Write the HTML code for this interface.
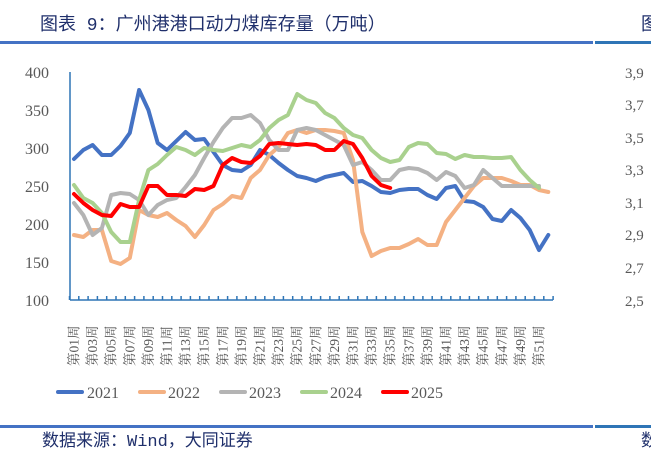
<!DOCTYPE html>
<html><head><meta charset="utf-8"><style>
body{margin:0;background:#fff;width:651px;height:461px;overflow:hidden}
svg{display:block}
</style></head><body>
<svg id="s" width="651" height="461" xmlns="http://www.w3.org/2000/svg" font-family="Liberation Serif, Noto Serif CJK SC, serif">
<text x="40" y="30" font-size="18" fill="#1f2f6b" font-family="Liberation Mono, Noto Sans CJK SC, monospace">图表 9：广州港港口动力煤库存量（万吨）</text>
<text x="641" y="30" font-size="18" fill="#1f2f6b" font-family="Noto Sans CJK SC, sans-serif">图</text>
<rect x="0" y="41" width="593" height="3" fill="#4472c4"/><rect x="595" y="41" width="56" height="3" fill="#2e75b6"/>
<g font-size="16" fill="#595959" text-anchor="end">
<text x="49" y="78">400</text><text x="49" y="154">300</text><text x="49" y="230">200</text><text x="49" y="306">100</text>
<text x="49" y="116">350</text><text x="49" y="192">250</text><text x="49" y="268">150</text>
</g>
<g font-size="15" fill="#595959">
<text x="625" y="78">3,9</text><text x="625" y="110">3,7</text><text x="625" y="143">3,5</text><text x="625" y="175">3,3</text><text x="625" y="208">3,1</text><text x="625" y="240">2,9</text><text x="625" y="273">2,7</text><text x="625" y="306">2,5</text>
</g>
<g id="ax" stroke="#2e75b6" stroke-width="1.5"><line x1="70" y1="72" x2="70" y2="300"/><line x1="70" y1="300" x2="553" y2="300"/></g>
<g id="lines" fill="none" stroke-width="4" stroke-linejoin="round" stroke-linecap="round"></g>
<g id="lab" font-size="13.5" fill="#595959" font-family="Liberation Serif, Noto Serif CJK SC, serif"></g>
<g font-size="16" fill="#595959">
<line x1="58" y1="392" x2="82" y2="392" stroke="#4472c4" stroke-width="4" stroke-linecap="round"/><text x="87" y="398">2021</text>
<line x1="140" y1="392" x2="164" y2="392" stroke="#f4b183" stroke-width="4" stroke-linecap="round"/><text x="168" y="398">2022</text>
<line x1="221" y1="392" x2="245" y2="392" stroke="#b4b4b4" stroke-width="4" stroke-linecap="round"/><text x="249" y="398">2023</text>
<line x1="302" y1="392" x2="326" y2="392" stroke="#a9d18e" stroke-width="4" stroke-linecap="round"/><text x="330" y="398">2024</text>
<line x1="383" y1="392" x2="407" y2="392" stroke="#ff0000" stroke-width="4" stroke-linecap="round"/><text x="411" y="398">2025</text>
</g>
<rect x="0" y="425" width="593" height="3" fill="#4472c4"/><rect x="595" y="425" width="56" height="3" fill="#2e75b6"/>
<text x="42" y="446" font-size="17" fill="#1f2f6b" font-family="Liberation Mono, Noto Sans CJK SC, monospace">数据来源：Wind，大同证券</text>
<text x="641" y="446" font-size="17" fill="#1f2f6b" font-family="Noto Sans CJK SC, sans-serif">数</text>
</svg>
<script>
var X=function(i){return 74+(i-1)*9.3};
var D={
"#4472c4":[159,150,145,155,155,146,133,90,110,143,150,141,132,140,139,152,165,170,171,165,150,155,163,170,176,178,181,177,175,173,182,181,186,192,193,190,189,189,195,199,188,186,201,202,207,219,221,210,218,230,250,235],
"#f4b183":[235,237,230,230,261,264,258,210,215,217,213,220,226,237,225,210,204,196,198,178,170,155,147,133,130,133,130,130,131,133,160,232,256,251,248,248,244,239,245,245,222,210,198,186,178,178,178,181,185,185,190,192],
"#b4b4b4":[203,215,235,228,195,193,194,200,215,205,200,198,187,175,158,142,128,118,118,115,123,140,150,150,130,128,130,135,140,145,165,162,170,180,180,170,168,169,173,180,172,176,188,185,170,178,186,186,186,186,186],
"#a9d18e":[185,198,203,213,232,242,242,200,170,164,155,147,150,155,148,150,151,148,145,147,140,128,120,115,94,100,103,113,118,128,135,138,150,158,162,160,147,143,144,153,154,159,155,157,157,158,158,157,170,180,188],
"#ff0000":[194,203,210,215,216,204,207,207,186,186,195,195,196,189,190,186,165,158,162,163,156,144,143,144,145,144,145,150,150,141,144,158,176,185,188]};
var g=document.getElementById('lines'),ns="http://www.w3.org/2000/svg";
for(var c in D){var p=document.createElementNS(ns,'polyline');p.setAttribute('points',D[c].map(function(y,i){return X(i+1)+','+y}).join(' '));p.setAttribute('stroke',c);g.appendChild(p);}
var ax=document.getElementById('ax');
for(var i=0;i<=52;i++){var x=69.5+i*9.3;var l=document.createElementNS(ns,'line');l.setAttribute('x1',x);l.setAttribute('x2',x);l.setAttribute('y1',300);l.setAttribute('y2',296);ax.appendChild(l);}
var lab=document.getElementById('lab');
for(var i=1;i<=52;i+=2){var t=document.createElementNS(ns,'text');var x=X(i)+4.5;t.setAttribute('transform','translate('+x+',366) rotate(-90)');t.textContent='第'+(i<10?'0':'')+i+'周';lab.appendChild(t);}
</script>
</body></html>
